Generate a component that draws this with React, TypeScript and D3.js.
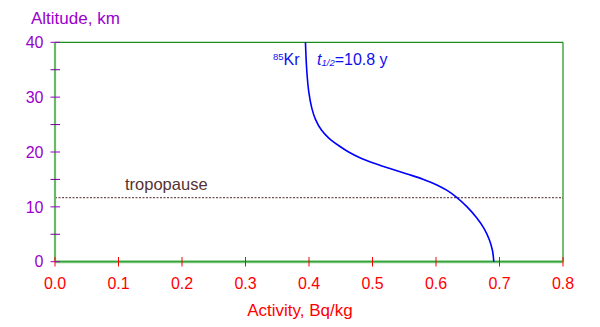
import React from "react";
import * as d3 from "d3";

const altitudeKm = [40, 35, 31, 28, 26, 24, 22.5, 21, 20, 19, 18, 17, 16, 15, 14, 13, 11.7, 10, 8, 6, 4, 2, 0];
const activityBqKg = [0.3944, 0.3964, 0.3996, 0.4044, 0.41, 0.4196, 0.4316, 0.4489, 0.4624, 0.4794, 0.5014, 0.5274, 0.5544, 0.5804, 0.6014, 0.6174, 0.633, 0.649, 0.664, 0.676, 0.684, 0.689, 0.691];
const xTicks = [0, 0.1, 0.2, 0.3, 0.4, 0.5, 0.6, 0.7, 0.8];
const yMajorTicks = [0, 10, 20, 30, 40];
const yMinorTicks = [5, 15, 25, 35];
const tropopauseKm = 11.7;

const FONT = "'Liberation Sans', Arial, Helvetica, sans-serif";

export default function App() {
  const x = d3.scaleLinear().domain([0, 0.8]).range([55, 563]);
  const y = d3.scaleLinear().domain([0, 40]).range([261.7, 42.3]);
  const pts = altitudeKm.map((a, i) => [activityBqKg[i], a] as [number, number]);
  const line = d3
    .line<[number, number]>()
    .x((d) => x(d[0]))
    .y((d) => y(d[1]))
    .curve(d3.curveCatmullRom.alpha(0.5));

  const purple = "#9900cc";
  const red = "#ff0000";
  return (
    <svg
      width={600}
      height={327}
      style={{ position: "absolute", left: 0, top: 0, background: "#fff" }}
      fontFamily={FONT}
    >
      {/* frame top/right */}
      <line x1={x(0)} x2={x(0.8)} y1={y(40)} y2={y(40)} stroke="#1a8f1a" strokeWidth={1.2} />
      <line x1={x(0.8)} x2={x(0.8)} y1={y(40)} y2={y(0)} stroke="#1a8f1a" strokeWidth={1.2} />
      {/* tropopause */}
      <line
        x1={x(0)}
        x2={x(0.8)}
        y1={y(tropopauseKm)}
        y2={y(tropopauseKm)}
        stroke="#705050"
        strokeWidth={1.2}
        strokeDasharray="2,1.5"
      />
      <text x={125} y={190} fontSize={16.5} fill="#553333">tropopause</text>
      {/* left axis */}
      <line x1={x(0)} x2={x(0)} y1={y(40)} y2={y(0)} stroke="#66bb66" strokeWidth={2.2} />
      {/* bottom axis */}
      <line x1={x(0)} x2={x(0.8)} y1={y(0)} y2={y(0)} stroke="#88cc88" strokeWidth={3} />
      <line x1={x(0)} x2={x(0.8)} y1={y(0)} y2={y(0)} stroke="#22992a" strokeWidth={1} />
      {/* y ticks */}
      {yMajorTicks.map((t) => (
        <g key={"ym" + t}>
          <line x1={50.5} x2={60} y1={y(t)} y2={y(t)} stroke={purple} strokeWidth={1} />
          <text x={43.5} y={y(t)} dy="0.36em" textAnchor="end" fontSize={16} fill={purple}>
            {t}
          </text>
        </g>
      ))}
      {yMinorTicks.map((t) => (
        <line key={"yn" + t} x1={50.5} x2={60} y1={y(t)} y2={y(t)} stroke="#770099" strokeWidth={1} />
      ))}
      {/* x ticks */}
      {xTicks.map((t) => (
        <g key={"x" + t}>
          <line x1={x(t)} x2={x(t)} y1={257} y2={266.5} stroke={red} strokeWidth={1} />
          <text x={x(t)} y={289} textAnchor="middle" fontSize={16} fill={red}>
            {t.toFixed(1)}
          </text>
        </g>
      ))}
      {/* curve */}
      <path d={line(pts) || ""} fill="none" stroke="#0000ff" strokeWidth={1.6} />
      {/* labels */}
      <text x={31} y={24} fontSize={17} fill={purple}>Altitude, km</text>
      <text x={300} y={316} fontSize={17} fill={red} textAnchor="middle">Activity, Bq/kg</text>
      <text x={273} y={65} fill="#1010ee" fontSize={16}>
        <tspan fontSize={9.5} dy={-5.5}>85</tspan>
        <tspan dy={5.5}>Kr</tspan>
      </text>
      <text x={317} y={64.5} fill="#1010ee" fontSize={16}>
        <tspan fontStyle="italic">t</tspan>
        <tspan fontStyle="italic" fontSize={9.5} dy={1}>1/2</tspan>
        <tspan dy={-1}>=10.8 y</tspan>
      </text>
    </svg>
  );
}
